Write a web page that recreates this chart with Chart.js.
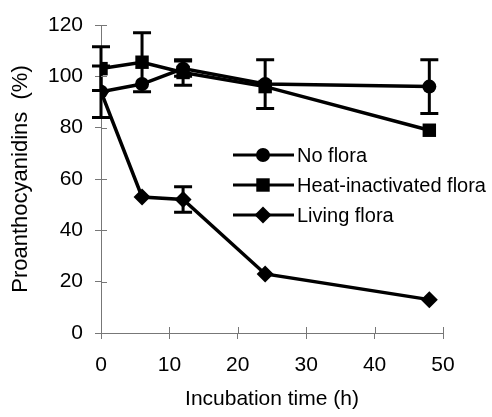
<!DOCTYPE html>
<html>
<head>
<meta charset="utf-8">
<script src="https://cdn.jsdelivr.net/npm/chart.js@4/dist/chart.umd.min.js"></script>
<style>
  html, body { margin: 0; padding: 0; background: #fff; }
</style>
</head>
<body>
<canvas id="grafico" width="492" height="417"></canvas>
<script>
// datos
const horas = [0, 6, 12, 24, 48];
const sinFlora = [94, 97, 103, 97, 96];
const sinFloraErr = [10, 0, 3, 9.5, 10.5];
const floraInactivada = [103, 105.5, 101.5, 96, 79];
const floraInactivadaErr = [8.5, 11.5, 5, 0, 0];
const floraViva = [94, 53, 52, 23, 13];
const floraVivaErr = [0, 0, 5, 0, 0];
const etiquetas = ["No flora", "Heat-inactivated flora", "Living flora"];
const ticksX = [0, 10, 20, 30, 40, 50];
const ticksY = [0, 20, 40, 60, 80, 100, 120];

Chart.defaults.font.family = "'Liberation Sans', Arial, sans-serif";
Chart.defaults.color = "#000";

const pares = (ys) => horas.map((h, i) => ({ x: h, y: ys[i] }));

// barras de error
const barrasError = {
  id: "barrasError",
  beforeDatasetsDraw(chart) {
    const { ctx, scales: { x, y } } = chart;
    ctx.save();
    ctx.strokeStyle = "#000";
    ctx.lineWidth = 3;
    chart.data.datasets.forEach(ds => {
      ds.data.forEach((p, i) => {
        const e = ds.err[i];
        if (!e) return;
        const px = x.getPixelForValue(p.x);
        const y1 = y.getPixelForValue(p.y + e);
        const y2 = y.getPixelForValue(p.y - e);
        ctx.beginPath();
        ctx.moveTo(px, y1); ctx.lineTo(px, y2);
        ctx.moveTo(px - 9, y1); ctx.lineTo(px + 9, y1);
        ctx.moveTo(px - 9, y2); ctx.lineTo(px + 9, y2);
        ctx.stroke();
      });
    });
    ctx.restore();
  }
};

// marcas hacia dentro de los ejes
const marcasInternas = {
  id: "marcasInternas",
  beforeDatasetsDraw(chart) {
    const { ctx, chartArea: a, scales: { x, y } } = chart;
    ctx.save();
    ctx.strokeStyle = "#777";
    ctx.lineWidth = 1;
    ctx.beginPath();
    ticksX.forEach(v => {
      const px = Math.round(x.getPixelForValue(v)) + 0.5;
      ctx.moveTo(px, a.bottom); ctx.lineTo(px, a.bottom - 6);
    });
    ticksY.forEach(v => {
      const py = Math.round(y.getPixelForValue(v)) + 0.5;
      ctx.moveTo(a.left, py); ctx.lineTo(a.left + 6, py);
    });
    ctx.stroke();
    ctx.restore();
  }
};

// leyenda dentro del area
const leyenda = {
  id: "leyenda",
  afterDatasetsDraw(chart) {
    const { ctx } = chart;
    ctx.save();
    chart.data.datasets.forEach((ds, i) => {
      const yy = 155 + i * 30;
      ctx.strokeStyle = "#000";
      ctx.lineWidth = 3;
      ctx.beginPath();
      ctx.moveTo(233, yy); ctx.lineTo(294, yy);
      ctx.stroke();
      ctx.fillStyle = "#000";
      Chart.helpers.drawPoint(ctx, { pointStyle: ds.pointStyle, radius: ds.pointRadius, borderWidth: 0 }, 263, yy);
      ctx.font = "20px 'Liberation Sans', Arial, sans-serif";
      ctx.textBaseline = "middle";
      ctx.textAlign = "left";
      ctx.fillText(ds.label, 297, yy + 1);
    });
    ctx.restore();
  }
};

const serie = (label, ys, err, estilo, radio) => ({
  label, data: pares(ys), err,
  borderColor: "#000", backgroundColor: "#000",
  borderWidth: 3.5, pointStyle: estilo, pointRadius: radio,
  pointBorderWidth: 0, pointBackgroundColor: "#000", tension: 0
});

new Chart(document.getElementById("grafico"), {
  type: "line",
  data: {
    datasets: [
      serie(etiquetas[0], sinFlora, sinFloraErr, "circle", 7),
      serie(etiquetas[1], floraInactivada, floraInactivadaErr, "rect", 9.5),
      serie(etiquetas[2], floraViva, floraVivaErr, "rectRot", 8.5)
    ]
  },
  options: {
    responsive: false,
    animation: false,
    layout: { padding: { top: 25, right: 49, left: 0, bottom: 0 } },
    plugins: { legend: { display: false }, tooltip: { enabled: false } },
    scales: {
      x: {
        type: "linear", min: 0, max: 50,
        afterFit: s => { s.height = 84; },
        afterBuildTicks: s => { s.ticks = ticksX.map(v => ({ value: v })); },
        ticks: { font: { size: 21 }, padding: 14, maxRotation: 0 },
        grid: { drawOnChartArea: false, tickLength: 6, color: "#777" },
        border: { color: "#777" },
        title: { display: true, text: "Incubation time (h)", font: { size: 21 }, padding: { top: 0, bottom: 5 } }
      },
      y: {
        min: 0, max: 120,
        afterFit: s => { s.width = 101; },
        afterBuildTicks: s => { s.ticks = ticksY.map(v => ({ value: v })); },
        ticks: { font: { size: 21 }, padding: 12 },
        grid: { drawOnChartArea: false, tickLength: 6, color: "#777" },
        border: { color: "#777" },
        title: { display: true, text: "Proanthocyanidins  (%)", font: { size: 22 }, padding: { top: 8, bottom: 0 } }
      }
    }
  },
  plugins: [barrasError, marcasInternas, leyenda]
});
</script>
</body>
</html>
